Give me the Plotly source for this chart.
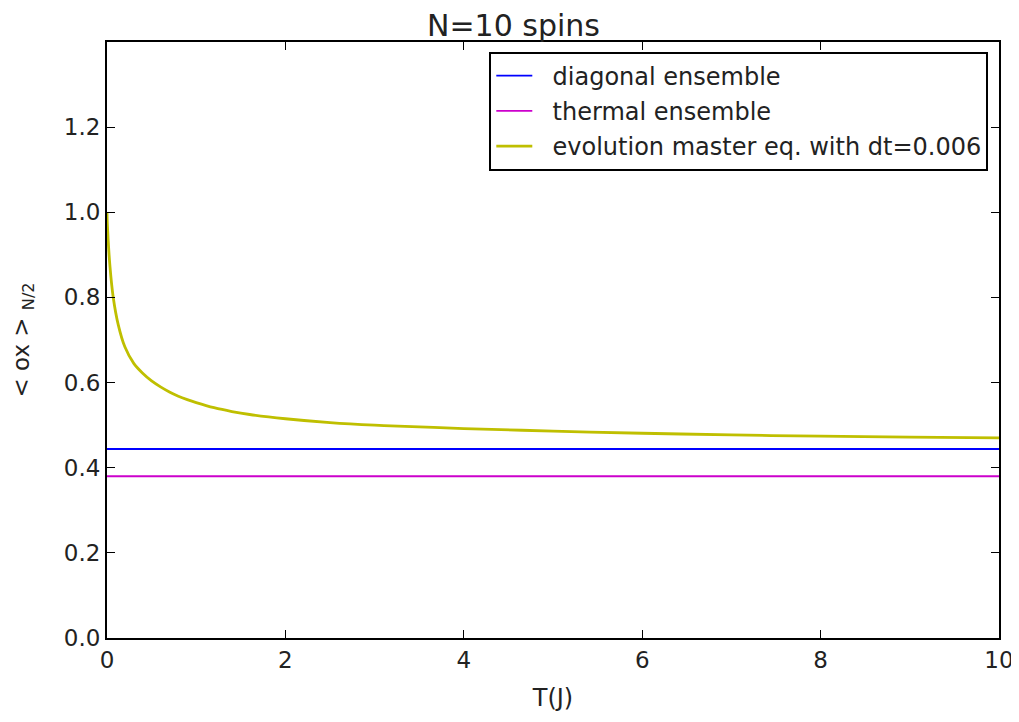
import plotly.graph_objects as go

# Data
T_evol = [0.0, 0.003, 0.034, 0.07, 0.127, 0.2, 0.3, 0.4, 0.5, 0.6, 0.7, 0.8, 0.9, 1.0, 1.2, 1.4, 1.6, 2.0, 2.5, 3.0, 3.5, 4.0, 5.0, 6.0, 7.0, 8.0, 9.0, 10.0]
sx_evol = [1.0, 0.975, 0.871, 0.80, 0.735, 0.684, 0.645, 0.622, 0.604, 0.590, 0.578, 0.568, 0.560, 0.553, 0.541, 0.532, 0.525, 0.515, 0.506, 0.500, 0.496, 0.492, 0.486, 0.481, 0.477, 0.474, 0.472, 0.470]
T_range = [0.0, 10.0]
diag_val = 0.444
thermal_val = 0.380

x_ticks = [0, 2, 4, 6, 8, 10]
y_ticks = [0.0, 0.2, 0.4, 0.6, 0.8, 1.0, 1.2]

pad = "\u00a0\u00a0"

fig = go.Figure()
fig.add_trace(go.Scatter(x=T_range, y=[diag_val, diag_val], mode="lines",
                         line=dict(color="#0000ff", width=1.8), name=pad + "diagonal ensemble",
                         legendgroup="a"))
fig.add_trace(go.Scatter(x=T_range, y=[thermal_val, thermal_val], mode="lines",
                         line=dict(color="#cc00cc", width=1.8), name=pad + "thermal ensemble",
                         legendgroup="b"))
fig.add_trace(go.Scatter(x=T_evol, y=sx_evol, mode="lines", line_shape="spline",
                         line=dict(color="#bfbf00", width=2.8, smoothing=1.0),
                         name=pad + "evolution master eq. with dt=0.006", legendgroup="c"))

font = "DejaVu Sans"
fig.update_layout(
    width=1011, height=714,
    margin=dict(l=99, r=20, t=34, b=84),
    paper_bgcolor="white", plot_bgcolor="white",
    font=dict(family=font, size=23, color="#222"),
    title=dict(text="N=10 spins", x=0.5, xanchor="center", y=0.99, yanchor="top",
               font=dict(size=30, family=font, color="#222")),
    showlegend=True,
    legend=dict(x=0.988, y=0.984, xanchor="right", yanchor="top",
                bordercolor="black", borderwidth=2, bgcolor="white",
                font=dict(size=24, family=font, color="#222"),
                tracegroupgap=1, itemwidth=36),
    xaxis=dict(range=[0, 10], tickvals=x_ticks, ticks="inside", ticklen=8,
               tickcolor="black", showline=True, linecolor="black", linewidth=2,
               mirror="ticks", showgrid=False, zeroline=False, automargin=False,
               tickfont=dict(size=23), ticklabeloverflow="allow",
               title=dict(text="T(J)", font=dict(size=24), standoff=18)),
    yaxis=dict(range=[0, 1.4], tickvals=y_ticks, tickformat=".1f", ticks="inside",
               ticklen=8, tickcolor="black", showline=True, linecolor="black",
               linewidth=2, mirror="ticks", showgrid=False, zeroline=False,
               automargin=False, tickfont=dict(size=23),
               title=dict(text="< ox > <sub>N/2</sub>", font=dict(size=23), standoff=34)),
)

fig.write_html("out.html")
